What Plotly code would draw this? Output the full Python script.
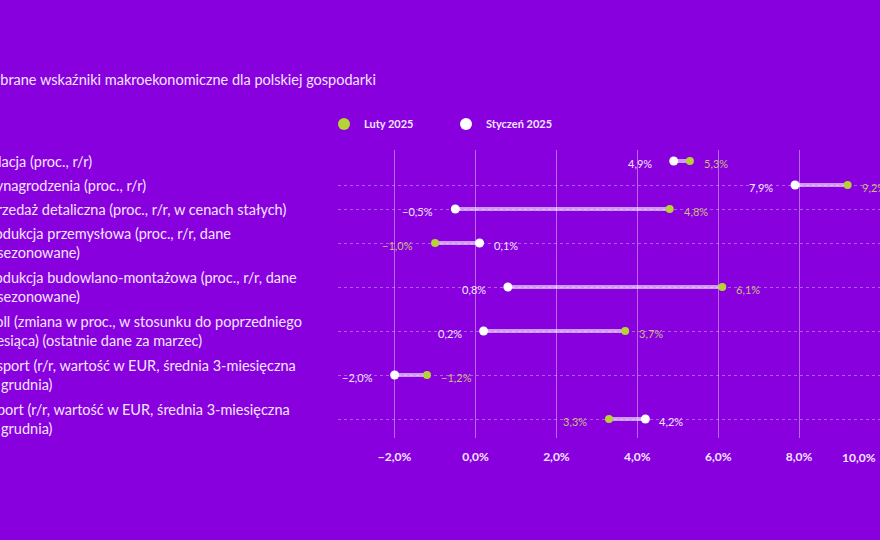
import plotly.graph_objects as go

# dane
labels = [
    "Inflacja (proc., r/r)",
    "Wynagrodzenia (proc., r/r)",
    "Sprzedaż detaliczna (proc., r/r, w cenach stałych)",
    "Produkcja przemysłowa (proc., r/r, dane<br>odsezonowane)",
    "Produkcja budowlano-montażowa (proc., r/r, dane<br>odsezonowane)",
    "Woll (zmiana w proc., w stosunku do poprzedniego<br>miesiąca) (ostatnie dane za marzec)",
    "Eksport (r/r, wartość w EUR, średnia 3-miesięczna<br>do grudnia)",
    "Import (r/r, wartość w EUR, średnia 3-miesięczna<br>do grudnia)",
]
styczen = [4.9, 7.9, -0.5, 0.1, 0.8, 0.2, -2.0, 4.2]
luty = [5.3, 9.2, 4.8, -1.0, 6.1, 3.7, -1.2, 3.3]
x_ticks = [-2, 0, 2, 4, 6, 8]

BG = "#8900DF"
GREEN = "#B5D334"
WHITE = "#FFFFFF"
TXT = "#F3E5FF"
GREEN_TXT = "#C9BC7C"
FONT = "Lato"


def fmt(v):
    s = f"{abs(v):.1f}".replace(".", ",") + "%"
    return ("\u2212" + s) if v < 0 else s


# row centres from the number of label lines (taller rows for 2-line labels)
heights = [lab.count("<br>") + 1 + 0.2 for lab in labels]
pos = [0.0]
for i in range(1, len(labels)):
    pos.append(pos[-1] + (heights[i - 1] + heights[i]) / 2)

fig = go.Figure()

# łączniki
lx, ly = [], []
for a, b, p in zip(styczen, luty, pos):
    lx += [a, b, None]
    ly += [p, p, None]
fig.add_trace(go.Scatter(
    x=lx, y=ly, mode="lines",
    line=dict(color="rgba(255,255,255,0.6)", width=4),
    showlegend=False, hoverinfo="skip",
))

fig.add_trace(go.Scatter(
    x=luty, y=pos, mode="markers", name="Luty 2025",
    marker=dict(color=GREEN, size=8), showlegend=False,
))
fig.add_trace(go.Scatter(
    x=styczen, y=pos, mode="markers", name="Styczeń 2025",
    marker=dict(color=WHITE, size=9), showlegend=False,
))
# legenda z większymi kropkami
for name, col in [("Luty 2025", GREEN), ("Styczeń 2025", WHITE)]:
    fig.add_trace(go.Scatter(
        x=[None], y=[None], mode="markers", name=name,
        marker=dict(color=col, size=12),
    ))

ann = []
# etykiety wartości - niższa po lewej, wyższa po prawej
for a, b, p in zip(styczen, luty, pos):
    for v, other, col in [(a, b, TXT), (b, a, GREEN_TXT)]:
        left = v < other
        ann.append(dict(
            x=v, y=p, xref="x", yref="y", text=fmt(v), showarrow=False,
            xanchor="right" if left else "left",
            xshift=-20 if left else 12, yshift=-2,
            font=dict(family=FONT, size=11, color=col),
        ))

# etykiety wierszy (lewa kolumna)
W = 880 - 338
H = 288
lab_x = (-21 - 338) / W
for lab, p in zip(labels, pos):
    ann.append(dict(
        x=lab_x, y=p, xref="paper", yref="y", text=lab, showarrow=False,
        xanchor="left", yanchor="middle", align="left",
        font=dict(family=FONT, size=14.5, color=TXT),
    ))

# tytuł
ann.append(dict(
    x=(-24 - 338) / W, y=1 + (150 - 79) / H, xref="paper", yref="paper",
    text="Wybrane wskaźniki makroekonomiczne dla polskiej gospodarki",
    showarrow=False, xanchor="left", yanchor="middle",
    font=dict(family=FONT, size=14.5, color=TXT),
))

# ostatnia etykieta osi (przy prawej krawędzi)
ann.append(dict(
    x=10, y=0, xref="x", yref="paper", text=fmt(10.0), showarrow=False,
    xanchor="right", yanchor="top", yshift=-10, xshift=-2,
    font=dict(family=FONT, size=12, color=TXT, weight="bold"),
))

fig.update_layout(
    width=880, height=540,
    paper_bgcolor=BG, plot_bgcolor=BG,
    margin=dict(l=338, r=0, t=150, b=102),
    font=dict(family=FONT, color=TXT),
    annotations=ann,
    legend=dict(
        orientation="h", x=(324 - 338) / W, y=1 + (150 - 124) / H,
        xanchor="left", yanchor="middle",
        font=dict(family=FONT, size=11, color=TXT, weight="bold"),
        entrywidth=77, entrywidthmode="pixels",
        bgcolor="rgba(0,0,0,0)",
    ),
    xaxis=dict(
        range=[-3.4, 10], tickvals=x_ticks,
        ticktext=[fmt(float(t)) for t in x_ticks],
        showgrid=True, gridcolor="rgba(255,255,255,0.4)", gridwidth=1,
        zeroline=False, showline=False, ticks="",
        ticklabelstandoff=10,
        tickfont=dict(family=FONT, size=12, color=TXT, weight="bold"),
        fixedrange=True,
    ),
    yaxis=dict(
        range=[pos[-1] + 0.95, -0.55], tickvals=pos[1:],
        showticklabels=False, showgrid=True,
        gridcolor="rgba(255,255,255,0.35)", griddash="dot", gridwidth=1,
        zeroline=False, showline=False, ticks="", fixedrange=True,
    ),
)

fig.write_html(
    "out.html",
    config={"displayModeBar": False},
    post_script="document.body.style.margin='0';document.body.style.overflow='hidden';",
)
